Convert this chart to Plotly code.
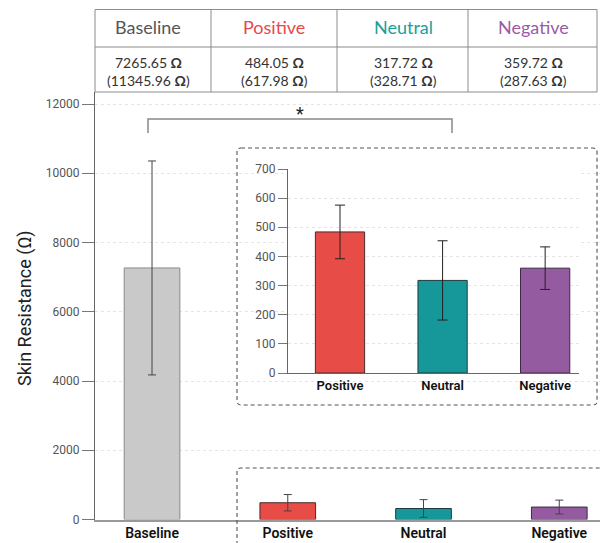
import plotly.graph_objects as go

W, H = 600, 543

# ---- data ----
categories = ["Baseline", "Positive", "Neutral", "Negative"]
means = [7265.65, 484.05, 317.72, 359.72]
main_err = [3090, 237, 256, 200]
inset_categories = ["Positive", "Neutral", "Negative"]
inset_means = [484.05, 317.72, 359.72]
inset_err = [92, 136, 73]
table_means = ["7265.65", "484.05", "317.72", "359.72"]
table_sds = ["11345.96", "617.98", "328.71", "287.63"]
main_ticks = [0, 2000, 4000, 6000, 8000, 10000, 12000]
inset_ticks = [0, 100, 200, 300, 400, 500, 600, 700]

colors = ["#c9c9c9", "#e84c47", "#16989b", "#955ba0"]
outlines = ["#8a8a8a", "#4a2a2a", "#1f3a3a", "#3a2a40"]
header_colors = ["#555555", "#e8474c", "#1a9e9e", "#9b5ba8"]


def X(px):
    return px / W


def Y(py):
    return 1 - py / H


fig = go.Figure()

fig.add_trace(go.Bar(
    x=categories, y=means, width=0.41,
    marker=dict(color=colors, line=dict(color=outlines, width=1)),
    error_y=dict(type="data", array=main_err, color="#444", thickness=1, width=4),
    xaxis="x", yaxis="y", showlegend=False, hoverinfo="skip",
))

fig.add_trace(go.Bar(
    x=inset_categories, y=inset_means, width=0.48,
    marker=dict(color=colors[1:], line=dict(color=outlines[1:], width=1)),
    error_y=dict(type="data", array=inset_err, color="#222", thickness=1, width=5),
    xaxis="x2", yaxis="y2", showlegend=False, hoverinfo="skip",
))

tickfont = dict(family="Roboto", size=12, color="#555")
labfont_main = dict(family="Roboto", size=14, color="#111", weight=600)
labfont_inset = dict(family="Roboto", size=13, color="#111", weight=600)

fig.update_layout(
    width=W, height=H,
    margin=dict(l=0, r=0, t=0, b=0),
    paper_bgcolor="white", plot_bgcolor="white",
    xaxis=dict(domain=[X(95), 1], range=[-0.42, 3.3], type="category",
               showline=True, linecolor="#999", linewidth=1.5,
               showgrid=False, ticks="", tickfont=labfont_main,
               automargin=False, fixedrange=True),
    yaxis=dict(domain=[Y(519.5), Y(92)], range=[0, 12348],
               tickvals=main_ticks, tickformat="d", showline=True, linecolor="#666", linewidth=1,
               ticks="outside", ticklen=12, tickcolor="#777",
               tickfont=tickfont, showgrid=True, gridcolor="#e4e4e4",
               griddash="dot", gridwidth=1, zeroline=False, automargin=False),
    xaxis2=dict(domain=[X(288), X(579)], range=[-0.507, 2.33], type="category",
                anchor="y2", showline=True, linecolor="#666", linewidth=1,
                showgrid=False, ticks="", tickfont=labfont_inset, automargin=False),
    yaxis2=dict(domain=[Y(373), Y(169)], range=[0, 700], anchor="x2",
                tickvals=inset_ticks, tickformat="d", showline=True, linecolor="#666", linewidth=1,
                ticks="outside", ticklen=9, tickcolor="#777",
                tickfont=tickfont, showgrid=True, gridcolor="#e4e4e4",
                griddash="dot", zeroline=False, automargin=False),
    bargap=0.2,
)

shapes = []
lc = "#8c8c8c"
# table lines
tx0, tx1 = 95, 597
ty0, ty1, ty2 = 9.5, 47, 92
for yy in [ty0, ty1, ty2]:
    shapes.append(dict(type="line", xref="paper", yref="paper",
                       x0=X(tx0), x1=X(tx1), y0=Y(yy), y1=Y(yy),
                       line=dict(color=lc, width=1)))
for xx in [95, 211, 337, 468, 597]:
    shapes.append(dict(type="line", xref="paper", yref="paper",
                       x0=X(xx), x1=X(xx), y0=Y(ty0), y1=Y(ty2),
                       line=dict(color=lc, width=1)))

# significance bracket
bx0, bx1, by, bt = 148, 452, 119, 133
shapes.append(dict(type="path", xref="paper", yref="paper",
                   path=f"M {X(bx0)},{Y(bt)} L {X(bx0)},{Y(by)} L {X(bx1)},{Y(by)} L {X(bx1)},{Y(bt)}",
                   line=dict(color="#888", width=1.5)))


# dashed inset box (rounded)
def rounded_rect(x0, y0, x1, y1, r):
    return (f"M {X(x0 + r)},{Y(y0)} L {X(x1 - r)},{Y(y0)} Q {X(x1)},{Y(y0)} {X(x1)},{Y(y0 + r)} "
            f"L {X(x1)},{Y(y1 - r)} Q {X(x1)},{Y(y1)} {X(x1 - r)},{Y(y1)} "
            f"L {X(x0 + r)},{Y(y1)} Q {X(x0)},{Y(y1)} {X(x0)},{Y(y1 - r)} "
            f"L {X(x0)},{Y(y0 + r)} Q {X(x0)},{Y(y0)} {X(x0 + r)},{Y(y0)} Z")


dash_line = dict(color="#555", width=1.1, dash="4px,3px")
shapes.append(dict(type="path", xref="paper", yref="paper",
                   path=rounded_rect(237, 148, 597, 405, 4), line=dash_line))
shapes.append(dict(type="path", xref="paper", yref="paper",
                   path=f"M {X(237)},{Y(545)} L {X(237)},{Y(472)} Q {X(237)},{Y(468)} {X(241)},{Y(468)} L {X(602)},{Y(468)}",
                   line=dash_line))

fig.update_layout(shapes=shapes)

ann = []
col_centers = [148, 274, 403, 533]
for i, name in enumerate(categories):
    ann.append(dict(xref="paper", yref="paper", x=X(col_centers[i]), y=Y(27),
                    text=name, showarrow=False, xanchor="center", yanchor="middle",
                    font=dict(family="Lato", size=18, color=header_colors[i])))
    ann.append(dict(xref="paper", yref="paper", x=X(col_centers[i]), y=Y(62),
                    text=f"{table_means[i]} <b>Ω</b>", showarrow=False,
                    xanchor="center", yanchor="middle",
                    font=dict(family="Lato", size=14, color="#333")))
    ann.append(dict(xref="paper", yref="paper", x=X(col_centers[i]), y=Y(81),
                    text=f"({table_sds[i]} <b>Ω</b>)", showarrow=False,
                    xanchor="center", yanchor="middle",
                    font=dict(family="Lato", size=14, color="#333")))

ann.append(dict(xref="paper", yref="paper", x=X(300), y=Y(113), text="*",
                showarrow=False, xanchor="center", yanchor="middle",
                font=dict(family="Roboto", size=18, color="#222")))
ann.append(dict(xref="paper", yref="paper", x=X(25), y=Y(308),
                text="Skin Resistance (Ω)", textangle=-90, showarrow=False,
                xanchor="center", yanchor="middle",
                font=dict(family="Roboto", size=18, color="#222")))
fig.update_layout(annotations=ann)

fig.write_html("out.html", config={"displayModeBar": False},
               post_script="document.body.style.margin='0';document.body.style.overflow='hidden';")
